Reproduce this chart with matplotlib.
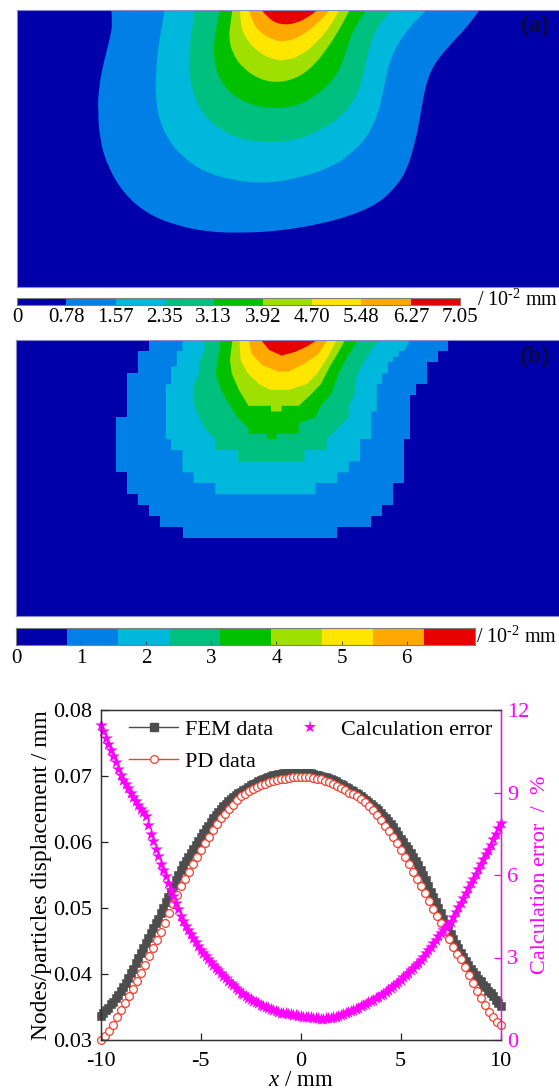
import numpy as np
import matplotlib
matplotlib.use("Agg")
import matplotlib.pyplot as plt
from matplotlib.lines import Line2D
from matplotlib.path import Path
from matplotlib.patches import PathPatch

plt.rcParams['font.family'] = ['Liberation Serif', 'DejaVu Serif']
plt.rcParams['mathtext.fontset'] = 'custom'
plt.rcParams['mathtext.rm'] = 'Liberation Serif'
plt.rcParams['mathtext.it'] = 'Liberation Serif:italic'
plt.rcParams['axes.unicode_minus'] = False

W, H = 559, 1089

colors = ['#0000AA', '#0080E6', '#00B8DC', '#00C080', '#00C000',
          '#A0E000', '#FFE600', '#FFA800', '#E60000']
levels = [0, 0.78, 1.57, 2.35, 3.13, 3.92, 4.70, 5.48, 6.27, 7.05]
level_labels_a = ['0', '0.78', '1.57', '2.35', '3.13', '3.92', '4.70', '5.48', '6.27', '7.05']
ticks_b = [0, 1, 2, 3, 4, 5, 6]

# contour bands of panel a (x, depth) on the 1568 x 860 grid of the panel
a_band1 = [(310, 30), (314, 70), (305, 120), (290, 180), (275, 260), (272, 330), (278, 420), (300, 500),
           (345, 580), (410, 640), (490, 675), (580, 695), (680, 698), (780, 692), (880, 675), (980, 648),
           (1060, 610), (1110, 560), (1140, 510), (1160, 440), (1175, 370), (1185, 300), (1200, 230),
           (1225, 180), (1270, 125), (1310, 80), (1345, 30)]
a_band2 = [(460, 30), (452, 80), (442, 140), (435, 220), (435, 300), (445, 360), (470, 420), (510, 470),
           (570, 515), (650, 540), (740, 550), (830, 535), (920, 505), (980, 465), (1030, 410), (1060, 340),
           (1075, 270), (1090, 190), (1115, 130), (1150, 80), (1195, 30)]
a_band3 = [(545, 30), (538, 80), (530, 140), (528, 220), (540, 280), (565, 340), (610, 385), (680, 420),
           (750, 428), (830, 420), (900, 390), (960, 345), (1000, 290), (1020, 220), (1030, 160), (1045, 110),
           (1065, 70), (1095, 30)]
a_band4 = [(615, 30), (605, 80), (597, 140), (600, 190), (615, 240), (650, 285), (710, 318), (770, 326),
           (830, 318), (880, 290), (930, 245), (960, 190), (975, 130), (995, 80), (1027, 30)]
a_band5 = [(650, 30), (645, 70), (640, 110), (650, 160), (680, 205), (730, 240), (785, 248), (840, 230),
           (885, 190), (920, 140), (950, 90), (980, 30)]
a_band6 = [(672, 30), (672, 70), (685, 110), (715, 150), (760, 178), (800, 182), (845, 165), (885, 130),
           (925, 80), (950, 30)]
a_band7 = [(697, 30), (705, 65), (730, 100), (770, 122), (800, 125), (840, 110), (880, 80), (925, 30)]
a_band8 = [(732, 30), (755, 60), (790, 75), (830, 70), (865, 50), (890, 30)]

# same for panel b, where the particle grid gives stepped edges
b_band1 = [(418, 30), (418, 63), (387, 63), (387, 130), (356, 130), (356, 262), (325, 262), (325, 428),
           (356, 428), (356, 494), (387, 494), (387, 527), (418, 527), (418, 560), (450, 560), (450, 593),
           (512, 593), (512, 626), (946, 626), (946, 593), (1040, 593), (1040, 560), (1072, 560), (1072, 527),
           (1102, 527), (1102, 460), (1134, 460), (1134, 328), (1150, 328), (1150, 196), (1166, 196),
           (1166, 163), (1197, 163), (1197, 96), (1228, 96), (1228, 63), (1258, 63), (1258, 30)]
b_band2 = [(512, 30), (512, 63), (496, 63), (496, 110), (480, 110), (480, 163), (465, 163), (465, 328),
           (480, 328), (480, 361), (512, 361), (512, 428), (543, 428), (543, 460), (604, 460), (604, 494),
           (885, 494), (885, 460), (946, 460), (946, 428), (978, 428), (978, 395), (1010, 395), (1010, 328),
           (1042, 328), (1042, 245), (1057, 245), (1057, 163), (1072, 163), (1072, 130), (1088, 130),
           (1088, 96), (1103, 96), (1103, 80), (1118, 80), (1118, 63), (1134, 63), (1150, 30)]
b_band3 = [(574, 30), (574, 63), (558, 96), (558, 130), (543, 170), (543, 220), (558, 262), (574, 295),
           (604, 328), (604, 361), (668, 361), (668, 394), (854, 394), (854, 361), (916, 361), (916, 328),
           (947, 295), (978, 262), (978, 228), (994, 196), (1000, 140), (1020, 96), (1040, 63), (1064, 30)]
b_band4 = [(620, 30), (612, 80), (605, 130), (620, 180), (636, 212), (666, 262), (697, 295), (697, 312),
           (750, 312), (750, 328), (775, 328), (775, 312), (838, 312), (838, 280), (885, 262), (900, 228),
           (930, 190), (950, 130), (975, 80), (1004, 30)]
b_band5 = [(652, 30), (645, 90), (650, 130), (670, 180), (697, 228), (760, 228), (760, 245), (790, 245),
           (790, 228), (838, 228), (870, 196), (900, 163), (925, 110), (945, 75), (968, 30)]
b_band6 = [(672, 30), (675, 90), (695, 130), (730, 165), (760, 180), (810, 180), (860, 163), (890, 130),
           (920, 80), (945, 30)]
b_band7 = [(698, 30), (705, 70), (735, 105), (780, 125), (810, 125), (855, 100), (890, 75), (920, 30)]
b_band8 = [(732, 30), (755, 60), (790, 77), (830, 65), (860, 50), (890, 30)]

# one row per mm, -10 to 10 mm
fem = [.0337, .0341, .0345, .0349, .0354, .0358, .0363, .0368,
       .0374, .0380, .0387, .0394, .0401, .0408, .0416, .0424,
       .0432, .0439, .0447, .0454, .0462, .0469, .0477, .0484,
       .0492, .0500, .0509, .0517, .0525, .0534, .0542, .0550,
       .0558, .0565, .0571, .0578, .0584, .0590, .0596, .0602,
       .0608, .0614, .0619, .0625, .0630, .0636, .0641, .0646,
       .0650, .0654, .0658, .0662, .0665, .0668, .0671, .0674,
       .0676, .0679, .0681, .0684, .0686, .0688, .0690, .0692,
       .0694, .0696, .0697, .0699, .0700, .0701, .0702, .0703,
       .0703, .0704, .0704, .0705, .0705, .0705, .0705, .0705,
       .0705, .0705, .0705, .0704, .0704, .0703, .0702, .0701,
       .0700, .0699, .0698, .0697, .0695, .0694, .0692, .0690,
       .0688, .0686, .0684, .0682, .0679, .0677, .0674, .0672,
       .0669, .0666, .0663, .0661, .0658, .0655, .0651, .0648,
       .0644, .0640, .0636, .0632, .0627, .0622, .0616, .0611,
       .0605, .0600, .0594, .0589, .0583, .0577, .0571, .0565,
       .0558, .0550, .0542, .0534, .0525, .0517, .0509, .0500,
       .0492, .0484, .0476, .0468, .0460, .0453, .0446, .0439,
       .0432, .0426, .0420, .0414, .0408, .0403, .0398, .0393,
       .0389, .0384, .0380, .0375, .0371, .0366, .0361, .0356,
       .0351]
calc_error = [11.45, 11.22, 11.0, 10.78, 10.55, 10.32, 10.1, 9.87,
              9.64, 9.47, 9.3, 9.15, 9.0, 8.85, 8.7, 8.55,
              8.4, 8.28, 8.15, 7.82, 7.5, 7.22, 6.95, 6.68,
              6.4, 6.17, 5.95, 5.7, 5.46, 5.23, 5.0, 4.75,
              4.5, 4.32, 4.15, 4.0, 3.85, 3.7, 3.55, 3.41,
              3.28, 3.16, 3.05, 2.95, 2.85, 2.74, 2.63, 2.53,
              2.43, 2.34, 2.25, 2.16, 2.08, 1.99, 1.9, 1.81,
              1.72, 1.66, 1.6, 1.54, 1.48, 1.43, 1.38, 1.33,
              1.28, 1.24, 1.2, 1.16, 1.13, 1.09, 1.06, 1.03,
              1.0, 0.98, 0.97, 0.95, 0.93, 0.91, 0.9, 0.88,
              0.87, 0.85, 0.84, 0.83, 0.82, 0.81, 0.8, 0.79,
              0.78, 0.78, 0.79, 0.79, 0.8, 0.82, 0.84, 0.87,
              0.9, 0.93, 0.97, 1.01, 1.05, 1.09, 1.13, 1.17,
              1.22, 1.27, 1.32, 1.37, 1.42, 1.47, 1.52, 1.57,
              1.62, 1.69, 1.76, 1.83, 1.9, 1.97, 2.05, 2.12,
              2.2, 2.28, 2.37, 2.45, 2.54, 2.63, 2.72, 2.81,
              2.9, 3.02, 3.15, 3.27, 3.4, 3.52, 3.65, 3.77,
              3.9, 4.0, 4.1, 4.2, 4.3, 4.47, 4.65, 4.82,
              5.0, 5.17, 5.35, 5.52, 5.7, 5.87, 6.05, 6.22,
              6.4, 6.57, 6.75, 6.92, 7.1, 7.3, 7.5, 7.7,
              7.9]
pd_data = [.0300, .0306, .0314, .0323, .0335,
           .0346, .0356, .0367, .0378, .0389,
           .0401, .0414, .0427, .0440, .0452,
           .0464, .0478, .0492, .0506, .0519,
           .0533, .0544, .0555, .0566, .0577,
           .0588, .0598, .0608, .0618, .0627,
           .0636, .0643, .0650, .0656, .0663,
           .0669, .0673, .0677, .0680, .0683,
           .0686, .0688, .0691, .0693, .0694,
           .0695, .0696, .0697, .0698, .0699,
           .0699, .0699, .0698, .0697, .0696,
           .0695, .0693, .0691, .0688, .0685,
           .0682, .0679, .0675, .0672, .0669,
           .0665, .0660, .0654, .0648, .0641,
           .0634, .0625, .0616, .0607, .0598,
           .0588, .0577, .0566, .0555, .0544,
           .0533, .0522, .0511, .0499, .0488,
           .0477, .0465, .0453, .0441, .0431,
           .0422, .0410, .0398, .0387, .0375,
           .0364, .0353, .0343, .0335, .0328,
           .0323]
x_fem = np.linspace(-10, 10, len(fem))
x_pd = np.linspace(-10, 10, len(pd_data))


def pixel_axes(fig, left, top, right, bottom):
    return fig.add_axes([left / W, 1 - bottom / H, (right - left) / W, (bottom - top) / H])


def smooth_patch(points, color):
    # quadratic curves through the midpoints, keeps the FEM contours round
    pts = np.array(points, dtype=float)
    verts = [pts[0]]
    codes = [Path.MOVETO]
    for i in range(1, len(pts) - 1):
        verts += [pts[i], (pts[i] + pts[i + 1]) / 2]
        codes += [Path.CURVE3, Path.CURVE3]
    verts += [pts[-1], pts[0]]
    codes += [Path.LINETO, Path.CLOSEPOLY]
    return PathPatch(Path(verts, codes), facecolor=color, edgecolor='none')


def draw_panel(ax, bands, label, smooth):
    ax.set_facecolor(colors[0])
    for band, color in zip(bands, colors[1:]):
        if smooth:
            ax.add_patch(smooth_patch(band, color))
        else:
            px, py = zip(*band)
            ax.fill(px, py, color=color, lw=0)
    ax.set_xlim(45, 1568)
    ax.set_ylim(860, 30)
    ax.set_xticks([])
    ax.set_yticks([])
    for s in ax.spines.values():
        s.set_color('#8a8ac8')
        s.set_linewidth(0.8)
    ax.spines['right'].set_visible(False)
    ax.text(0.957, 0.94, label, transform=ax.transAxes, ha='center', va='center',
            fontsize=18, fontweight='bold', color='#0a0a40')


def draw_colorbar(ax, ticks, labels, tick_len, pad):
    ax.barh(0, np.diff(levels), left=levels[:-1], height=1, color=colors, lw=0)
    ax.set_xlim(levels[0], levels[-1])
    ax.set_ylim(-0.5, 0.5)
    ax.set_yticks([])
    ax.set_xticks(ticks)
    ax.set_xticklabels(labels, fontsize=15)
    ax.tick_params(axis='x', length=tick_len, width=0.6, pad=pad, direction='in', color='#444444')
    for s in ax.spines.values():
        s.set_color('#808080')
        s.set_linewidth(0.8)


fig = plt.figure(figsize=(W / 100, H / 100), dpi=100)
unit_text = '/ 10$^{\u20102}$ mm'

ax_a = pixel_axes(fig, 17, 10, 559, 287)
draw_panel(ax_a, [a_band1, a_band2, a_band3, a_band4, a_band5, a_band6, a_band7, a_band8], '(a)', True)
cb_a = pixel_axes(fig, 17, 298, 460, 305)
draw_colorbar(cb_a, levels, level_labels_a, 0, 2)
fig.text(477 / W, 1 - 300 / H, unit_text, fontsize=14.5, va='center', ha='left')

ax_b = pixel_axes(fig, 16, 340, 559, 616)
draw_panel(ax_b, [b_band1, b_band2, b_band3, b_band4, b_band5, b_band6, b_band7, b_band8], '(b)', False)
cb_b = pixel_axes(fig, 16, 628, 475, 645)
draw_colorbar(cb_b, ticks_b, [str(t) for t in ticks_b], 3, 3)
fig.text(476 / W, 1 - 637 / H, unit_text, fontsize=14.5, va='center', ha='left')

ax = pixel_axes(fig, 100.7, 710, 500.7, 1040)
ax2 = ax.twinx()
# scatter instead of plot markers, plot markers get snapped and the bands turn wobbly
ax.scatter(x_fem, fem, s=6.2 ** 2, marker='s', color='#4d4d4d', lw=0, clip_on=False, snap=False)
ax.scatter(x_pd, pd_data, s=5.6 ** 2, marker='o', facecolor='white', edgecolor='#f04030', lw=0.9,
           clip_on=False, snap=False)
ax2.scatter(x_fem, calc_error, s=9.5 ** 2, marker='*', color='#ff00ff', lw=0, clip_on=False, snap=False)

ax.set_xlim(-10, 10)
ax.set_ylim(0.03, 0.08)
ax2.set_ylim(0, 12)
ax.set_xticks([-10, -5, 0, 5, 10])
ax.set_xticklabels(['-10', '-5', '0', '5', '10'])
ax.set_yticks([0.03, 0.04, 0.05, 0.06, 0.07, 0.08])
ax.set_yticklabels(['0.03', '0.04', '0.05', '0.06', '0.07', '0.08'])
ax2.set_yticks([0, 3, 6, 9, 12])
ax.tick_params(axis='x', direction='in', length=5, width=0.9, labelsize=16, color='#222222', pad=9)
ax.tick_params(axis='y', direction='in', length=5, width=0.9, labelsize=16, color='#222222', pad=6)
ax2.tick_params(axis='y', direction='in', length=5, width=0.9, labelsize=16, color='#ff00ff',
                labelcolor='#ff00ff', pad=4.5)
for s in ['left', 'bottom', 'top']:
    ax2.spines[s].set_color('#333333')
    ax2.spines[s].set_linewidth(1.0)
ax2.spines['right'].set_color('#ff00ff')
ax2.spines['right'].set_linewidth(1.0)
ax.set_xlabel('$\\mathit{x}$ / mm', fontsize=16.5, labelpad=-1)
ax.set_ylabel('Nodes/particles displacement / mm', fontsize=16.8, labelpad=1)
ax2.set_ylabel('Calculation error  /  %', fontsize=16, color='#ff00ff', labelpad=1)

handles = [Line2D([], [], color='#4d4d4d', lw=1, marker='s', ms=6.2),
           Line2D([], [], color='#f04030', lw=1, marker='o', ms=5.6, mew=0.9, mfc='white'),
           Line2D([], [], color='#ff00ff', lw=0, marker='*', ms=9.5, mew=0)]
ax2.legend(handles, ['FEM data', 'PD data', 'Calculation error'], ncol=2,
           loc='upper left', bbox_to_anchor=(0.06, 0.985), frameon=False, fontsize=16, handlelength=2.2,
           handletextpad=0.3, columnspacing=0.55, labelspacing=0.5, borderaxespad=0, borderpad=0.2,
           numpoints=1)

fig.savefig('out.png', dpi=100)
